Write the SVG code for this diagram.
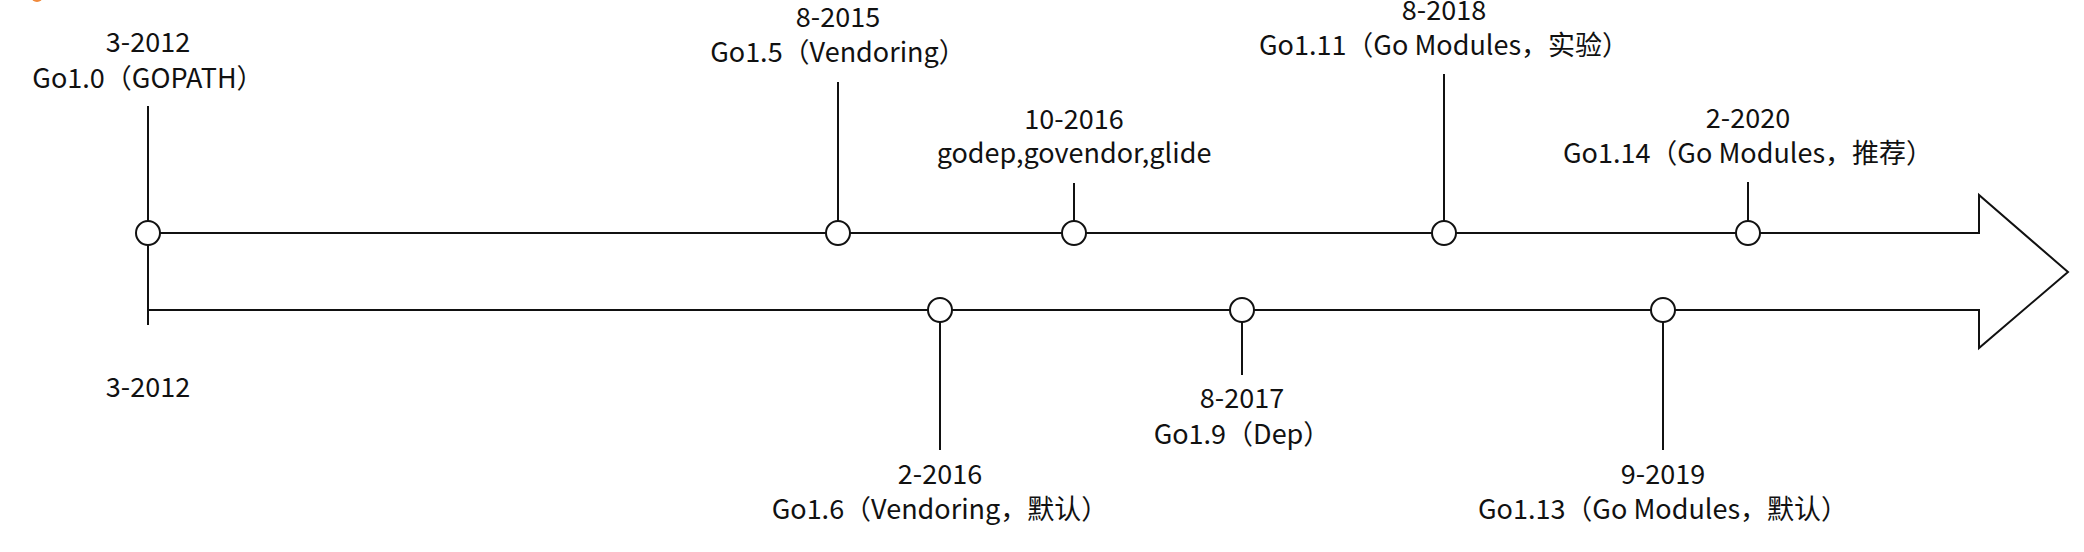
<svg xmlns="http://www.w3.org/2000/svg" width="2084" height="552" viewBox="0 0 2084 552">
<style>
.t{font-family:"Noto Sans CJK SC","Noto Sans",sans-serif;font-size:27px;fill:#111;text-anchor:middle}
.ln{stroke:#111;stroke-width:2;fill:none}
.dot{stroke:#111;stroke-width:2;fill:#fff}
</style>
<rect width="2084" height="552" fill="#fff"/>
<circle cx="37" cy="-4" r="6" fill="#f08a3c"/>
<g id="connectors">
<path class="ln" d="M148,233 H1979 V195 L2068,272 L1979,348 V310 H148"/>
<line class="ln" x1="148" y1="106" x2="148" y2="325"/>
<line class="ln" x1="838" y1="82" x2="838" y2="233"/>
<line class="ln" x1="1074" y1="183" x2="1074" y2="233"/>
<line class="ln" x1="1444" y1="74" x2="1444" y2="233"/>
<line class="ln" x1="1748" y1="182" x2="1748" y2="233"/>
<line class="ln" x1="940" y1="310" x2="940" y2="450"/>
<line class="ln" x1="1242" y1="310" x2="1242" y2="375"/>
<line class="ln" x1="1663" y1="310" x2="1663" y2="450"/>
</g>
<g id="go10">
<circle class="dot" cx="148" cy="233" r="12"/>
<text class="t" x="148" y="52">3-2012</text>
<text class="t" x="148" y="88">Go1.0（GOPATH）</text>
</g>
<g id="start-bottom">
<text class="t" x="148" y="397">3-2012</text>
</g>
<g id="go15">
<circle class="dot" cx="838" cy="233" r="12"/>
<text class="t" x="838" y="27">8-2015</text>
<text class="t" x="838" y="62">Go1.5（Vendoring）</text>
</g>
<g id="tools2016">
<circle class="dot" cx="1074" cy="233" r="12"/>
<text class="t" x="1074" y="129">10-2016</text>
<text class="t" x="1074" y="163">godep,govendor,glide</text>
</g>
<g id="go111">
<circle class="dot" cx="1444" cy="233" r="12"/>
<text class="t" x="1444" y="20">8-2018</text>
<text class="t" x="1444" y="55">Go1.11（Go Modules，实验）</text>
</g>
<g id="go114">
<circle class="dot" cx="1748" cy="233" r="12"/>
<text class="t" x="1748" y="128">2-2020</text>
<text class="t" x="1748" y="163">Go1.14（Go Modules，推荐）</text>
</g>
<g id="go16">
<circle class="dot" cx="940" cy="310" r="12"/>
<text class="t" x="940" y="484">2-2016</text>
<text class="t" x="940" y="519">Go1.6（Vendoring，默认）</text>
</g>
<g id="go19">
<circle class="dot" cx="1242" cy="310" r="12"/>
<text class="t" x="1242" y="408">8-2017</text>
<text class="t" x="1242" y="444">Go1.9（Dep）</text>
</g>
<g id="go113">
<circle class="dot" cx="1663" cy="310" r="12"/>
<text class="t" x="1663" y="484">9-2019</text>
<text class="t" x="1663" y="519">Go1.13（Go Modules，默认）</text>
</g>
</svg>
